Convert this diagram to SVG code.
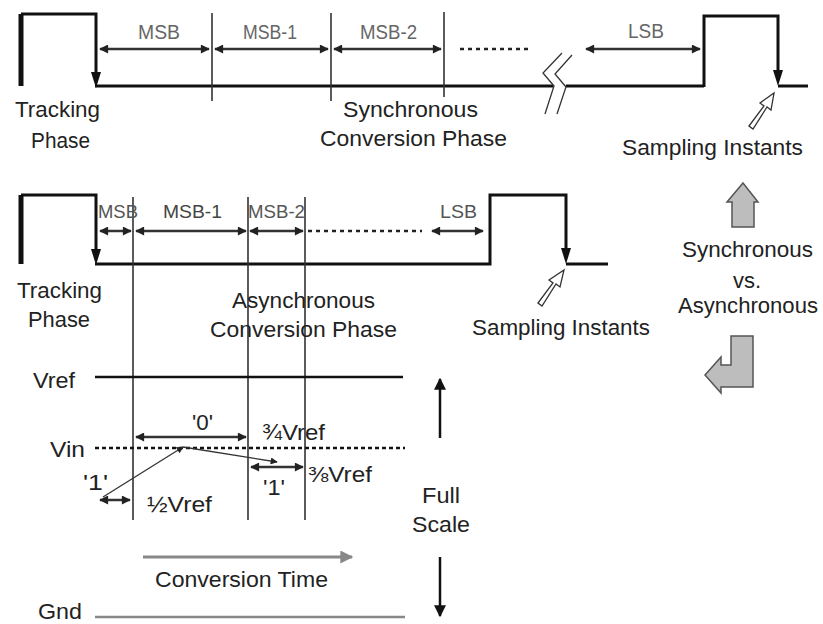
<svg xmlns="http://www.w3.org/2000/svg" width="823" height="624" viewBox="0 0 823 624">
<style>
text{font-family:"Liberation Sans",Arial,sans-serif;fill:#222}
.lbl{font-size:20px;fill:#666}
.lbl2{font-size:19px;fill:#555}
.big{font-size:22px}
.sig{fill:none;stroke:#111;stroke-width:3}
.div{stroke:#333;stroke-width:1.6}
.dbl{stroke:#333;stroke-width:2.5;marker-start:url(#ah);marker-end:url(#ah)}
.dots{stroke:#222;stroke-width:2.5;stroke-dasharray:4 4}
.thin{stroke:#333;stroke-width:1.3;fill:none}
.hollow{fill:#fff;stroke:#333;stroke-width:1.3}
.block{fill:#bdbdbd;stroke:#555;stroke-width:1.5}
</style>
<defs>
<marker id="ah" viewBox="0 0 10 10" refX="9" refY="5" markerWidth="11" markerHeight="9" markerUnits="userSpaceOnUse" orient="auto-start-reverse"><path d="M0,0 L10,5 L0,10 z" fill="#222"/></marker>
<marker id="ahs" viewBox="0 0 10 10" refX="9" refY="5" markerWidth="9" markerHeight="7" markerUnits="userSpaceOnUse" orient="auto"><path d="M0,0 L10,5 L0,10 z" fill="#222"/></marker>
<marker id="ahf" viewBox="0 0 10 10" refX="9" refY="5" markerWidth="16" markerHeight="12" markerUnits="userSpaceOnUse" orient="auto"><path d="M0,0 L10,5 L0,10 z" fill="#111"/></marker>
<marker id="ahg" viewBox="0 0 10 10" refX="9" refY="5" markerWidth="18" markerHeight="13" markerUnits="userSpaceOnUse" orient="auto"><path d="M0,0 L10,5 L0,10 z" fill="#888"/></marker>
</defs>

<g id="sync-timing">
<line x1="21" y1="14" x2="21" y2="86" stroke="#111" stroke-width="5"/>
<polyline class="sig" points="21,14 96,14 96,74"/>
<polygon points="91,72 101,72 96,88" fill="#111"/>
<line class="sig" x1="95" y1="86" x2="553" y2="86"/>
<line class="sig" x1="566" y1="86" x2="704" y2="86"/>
<polyline class="sig" points="704,87 704,16 778,16 778,74"/>
<polygon points="773,70 783,70 778,86" fill="#111"/>
<line class="sig" x1="778" y1="86" x2="808" y2="86"/>
<polyline class="thin" stroke-width="1.6" points="562,53 543,73 554,86 545,114"/>
<polyline class="thin" stroke-width="1.6" points="572,55 555,74 566,87 557,114"/>
</g>

<g id="sync-dividers">
<line class="div" x1="212" y1="13" x2="212" y2="101"/>
<line class="div" x1="331" y1="13" x2="331" y2="101"/>
<line class="div" x1="444" y1="12" x2="444" y2="97"/>
</g>

<g id="sync-bits">
<line class="dbl" x1="100" y1="49" x2="209" y2="49"/>
<line class="dbl" x1="215" y1="49" x2="328" y2="49"/>
<line class="dbl" x1="334" y1="49" x2="441" y2="49"/>
<line class="dots" x1="460" y1="49" x2="530" y2="49"/>
<line class="dbl" x1="586" y1="49" x2="700" y2="49"/>
<text class="lbl" x="138" y="39" textLength="42" lengthAdjust="spacingAndGlyphs">MSB</text>
<text class="lbl" x="243" y="39" textLength="54" lengthAdjust="spacingAndGlyphs">MSB-1</text>
<text class="lbl" x="360" y="39" textLength="57" lengthAdjust="spacingAndGlyphs">MSB-2</text>
<text class="lbl" x="628" y="38" textLength="36" lengthAdjust="spacingAndGlyphs">LSB</text>
</g>

<g id="sync-labels">
<text class="big" x="15" y="117" textLength="85" lengthAdjust="spacingAndGlyphs">Tracking</text>
<text class="big" x="31" y="148" textLength="59" lengthAdjust="spacingAndGlyphs">Phase</text>
<text class="big" x="343" y="117" textLength="135" lengthAdjust="spacingAndGlyphs">Synchronous</text>
<text class="big" x="320" y="146" textLength="187" lengthAdjust="spacingAndGlyphs">Conversion Phase</text>
<text class="big" x="622" y="155" textLength="181" lengthAdjust="spacingAndGlyphs">Sampling Instants</text>
<polygon class="hollow" points="749,126 764,106 760,103 774,93 771,110 767,107 753,129"/>
</g>

<g id="async-timing">
<line x1="21" y1="195" x2="21" y2="264" stroke="#111" stroke-width="5"/>
<polyline class="sig" points="21,195 96,195 96,252"/>
<polygon points="91,249 101,249 96,265" fill="#111"/>
<polyline class="sig" points="95,264 490,264 490,195 566,195 566,252"/>
<polygon points="561,248 571,248 566,264" fill="#111"/>
<line class="sig" x1="566" y1="264" x2="608" y2="264"/>
</g>

<g id="async-dividers">
<line class="div" x1="133" y1="197" x2="133" y2="520"/>
<line class="div" x1="248" y1="197" x2="248" y2="520"/>
<line class="div" x1="305" y1="197" x2="305" y2="520"/>
</g>

<g id="async-bits">
<line class="dbl" x1="100" y1="231" x2="131" y2="231"/>
<line class="dbl" x1="136" y1="231" x2="246" y2="231"/>
<line class="dbl" x1="250" y1="231" x2="303" y2="231"/>
<line class="dots" x1="308" y1="231" x2="422" y2="231"/>
<line class="dbl" x1="432" y1="231" x2="483" y2="231"/>
<text class="lbl2" x="98" y="218" textLength="40" lengthAdjust="spacingAndGlyphs">MSB</text>
<text class="lbl2" x="163" y="218" textLength="59" lengthAdjust="spacingAndGlyphs" style="fill:#444">MSB-1</text>
<text class="lbl2" x="248" y="218" textLength="57" lengthAdjust="spacingAndGlyphs">MSB-2</text>
<text class="lbl2" x="440" y="218" textLength="37" lengthAdjust="spacingAndGlyphs">LSB</text>
</g>

<g id="async-labels">
<text class="big" x="17" y="298" textLength="85" lengthAdjust="spacingAndGlyphs">Tracking</text>
<text class="big" x="28" y="327" textLength="62" lengthAdjust="spacingAndGlyphs">Phase</text>
<text class="big" x="232" y="308" textLength="143" lengthAdjust="spacingAndGlyphs">Asynchronous</text>
<text class="big" x="210" y="337" textLength="187" lengthAdjust="spacingAndGlyphs">Conversion Phase</text>
<text class="big" x="472" y="335" textLength="178" lengthAdjust="spacingAndGlyphs">Sampling Instants</text>
<polygon class="hollow" points="538,303 553,283 549,280 564,270 560,287 556,284 542,306"/>
</g>

<g id="compare">
<polygon class="block" points="743,183 758,202 754,202 754,227 732,227 732,202 727,202"/>
<text class="big" x="682" y="257" textLength="131" lengthAdjust="spacingAndGlyphs">Synchronous</text>
<text class="big" x="747" y="288" text-anchor="middle">vs.</text>
<text class="big" x="678" y="313" textLength="140" lengthAdjust="spacingAndGlyphs">Asynchronous</text>
<polygon class="block" points="731,336 753,336 753,387 721,387 721,393 705,375 721,357 721,365 731,365"/>
</g>

<g id="levels">
<text class="big" x="33" y="388" textLength="42" lengthAdjust="spacingAndGlyphs">Vref</text>
<line x1="95" y1="377" x2="403" y2="377" stroke="#111" stroke-width="2.5"/>
<text class="big" x="50" y="457" textLength="35" lengthAdjust="spacingAndGlyphs">Vin</text>
<line x1="95" y1="448" x2="405" y2="448" stroke="#111" stroke-width="2.5" stroke-dasharray="4 3"/>
<text class="big" x="38" y="619" textLength="44" lengthAdjust="spacingAndGlyphs">Gnd</text>
<line x1="95" y1="617" x2="405" y2="617" stroke="#888" stroke-width="2.5"/>
</g>

<g id="search">
<line class="dbl" x1="136" y1="437" x2="246" y2="437"/>
<text class="big" x="192" y="430" textLength="21" lengthAdjust="spacingAndGlyphs">'0'</text>
<text class="big" x="262" y="440" textLength="63" lengthAdjust="spacingAndGlyphs">¾Vref</text>
<line class="dbl" x1="100" y1="500" x2="130" y2="500"/>
<text class="big" x="83" y="490" textLength="25" lengthAdjust="spacingAndGlyphs">'1'</text>
<text class="big" x="147" y="512" textLength="65" lengthAdjust="spacingAndGlyphs">½Vref</text>
<line class="dbl" x1="251" y1="467" x2="303" y2="467"/>
<text class="big" x="263" y="495" textLength="22" lengthAdjust="spacingAndGlyphs">'1'</text>
<text class="big" x="308" y="482" textLength="64" lengthAdjust="spacingAndGlyphs">⅜Vref</text>
<line class="thin" x1="103" y1="497" x2="183" y2="447" marker-end="url(#ahs)"/>
<line class="thin" x1="183" y1="447" x2="277" y2="462" marker-end="url(#ahs)"/>
</g>

<g id="axes">
<line x1="143" y1="557" x2="352" y2="557" stroke="#888" stroke-width="3" marker-end="url(#ahg)"/>
<text class="big" x="155" y="587" textLength="173" lengthAdjust="spacingAndGlyphs">Conversion Time</text>
<line x1="440" y1="438" x2="440" y2="379" stroke="#111" stroke-width="2.5" marker-end="url(#ahf)"/>
<text class="big" x="422" y="503" textLength="38" lengthAdjust="spacingAndGlyphs">Full</text>
<text class="big" x="412" y="532" textLength="58" lengthAdjust="spacingAndGlyphs">Scale</text>
<line x1="440" y1="557" x2="440" y2="616" stroke="#111" stroke-width="2.5" marker-end="url(#ahf)"/>
</g>
</svg>
